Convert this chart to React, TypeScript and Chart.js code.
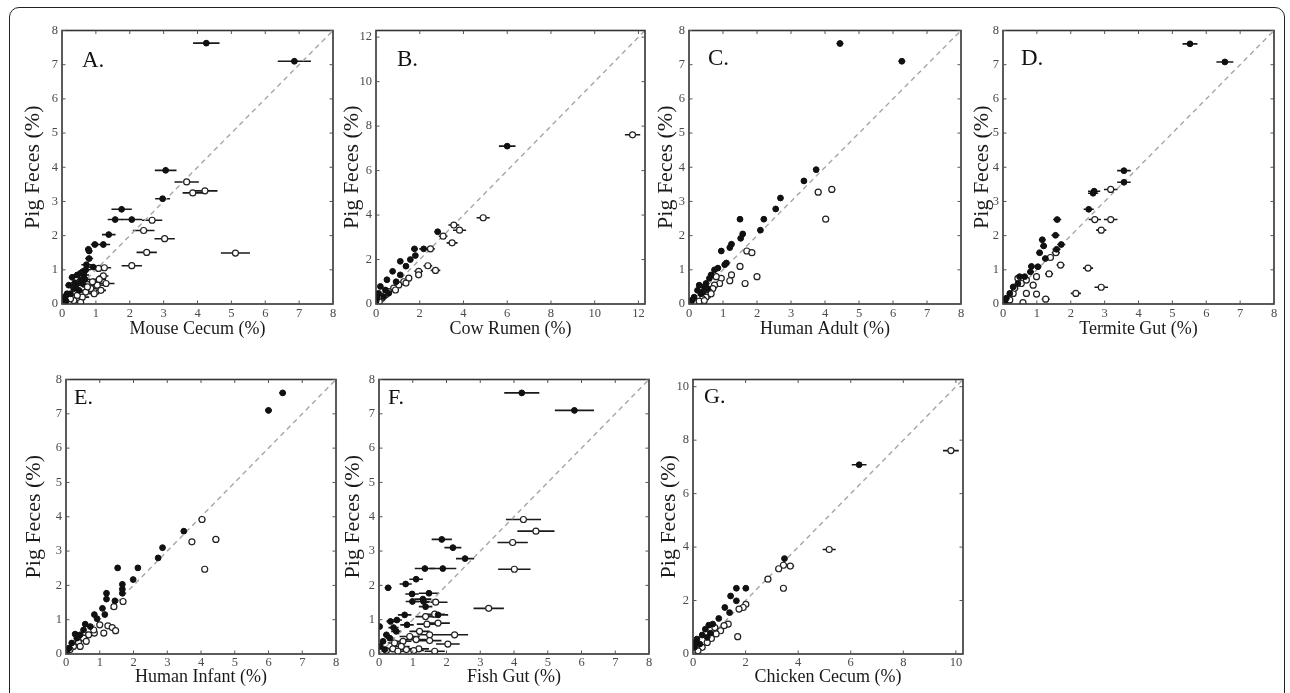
import React, { useEffect, useRef } from "react";
import { Chart, registerables } from "chart.js";

Chart.register(...registerables);

// [x, pigFeces, xError]
type P = [number, number, number];

const Y_ERR = 0.08;

const mouseFilled: P[] = [
  [4.26, 7.63, 0.39], [6.86, 7.1, 0.49], [3.06, 3.91, 0.32], [2.97, 3.08, 0.22], [1.76, 2.77, 0.3],
  [1.57, 2.47, 0.22], [2.06, 2.47, 0.3], [1.38, 2.03, 0.2], [1.22, 1.74, 0.2], [0.97, 1.74, 0.12],
  [0.78, 1.6, 0.1], [0.8, 1.55, 0.1], [0.8, 1.33, 0.12], [0.72, 1.15, 0.15], [0.92, 1.08, 0.15],
  [0.62, 0.95, 0.15], [0.45, 0.85, 0.15], [0.65, 0.85, 0.15], [0.3, 0.78, 0.1], [0.55, 0.7, 0.12],
  [0.2, 0.55, 0.1], [0.42, 0.55, 0.15], [0.6, 0.6, 0.12], [0.35, 0.45, 0.1], [0.15, 0.3, 0.08],
  [0.25, 0.3, 0.08], [0.08, 0.15, 0.05], [0.12, 0.08, 0.05], [0.05, 0.05, 0.05], [0.5, 0.4, 0.12],
  [0.7, 1.0, 0.15], [0.55, 0.9, 0.12], [0.38, 0.62, 0.12], [0.1, 0.22, 0.06], [0.68, 0.72, 0.15],
];
const mouseOpen: P[] = [
  [3.68, 3.57, 0.36], [3.86, 3.25, 0.3], [4.22, 3.31, 0.37], [2.66, 2.45, 0.3], [2.41, 2.15, 0.32],
  [3.03, 1.91, 0.3], [2.5, 1.51, 0.3], [5.12, 1.49, 0.43], [2.06, 1.12, 0.3], [1.08, 1.04, 0.15],
  [1.25, 1.06, 0.2], [1.22, 0.82, 0.15], [1.3, 0.6, 0.25], [1.04, 0.55, 0.2], [1.1, 0.72, 0.2],
  [0.9, 0.65, 0.15], [0.85, 0.45, 0.2], [0.7, 0.35, 0.2], [0.6, 0.2, 0.2], [0.45, 0.25, 0.15],
  [0.35, 0.1, 0.12], [0.55, 0.05, 0.1], [0.75, 0.5, 0.15], [0.95, 0.3, 0.15], [0.25, 0.15, 0.1],
  [1.15, 0.4, 0.15],
];

const cowFilled: P[] = [
  [6.0, 7.1, 0.38], [2.82, 3.25, 0.15], [1.76, 2.48, 0.15], [2.18, 2.48, 0.2], [1.8, 2.18, 0.12],
  [1.57, 2.0, 0.12], [1.11, 1.92, 0.1], [1.37, 1.7, 0.12], [0.76, 1.47, 0.1], [1.11, 1.31, 0.1],
  [0.5, 1.09, 0.1], [0.92, 1.0, 0.1], [0.2, 0.79, 0.08], [0.43, 0.63, 0.08], [0.12, 0.48, 0.06],
  [0.35, 0.33, 0.06], [0.05, 0.26, 0.05], [0.58, 0.48, 0.08], [0.0, 0.1, 0.04],
];
const cowOpen: P[] = [
  [11.73, 7.61, 0.35], [4.9, 3.88, 0.3], [3.56, 3.55, 0.25], [3.82, 3.32, 0.3], [3.07, 3.05, 0.2],
  [3.48, 2.75, 0.25], [2.49, 2.48, 0.2], [2.37, 1.72, 0.2], [2.72, 1.51, 0.22], [1.95, 1.47, 0.2],
  [1.95, 1.31, 0.15], [1.5, 1.16, 0.15], [1.27, 1.0, 0.12], [1.04, 0.86, 0.12], [0.81, 0.71, 0.1],
  [0.58, 0.56, 0.1], [0.43, 0.41, 0.08], [0.27, 0.26, 0.06], [0.15, 0.1, 0.05], [0.89, 0.63, 0.1],
  [1.37, 0.94, 0.12],
];

const adultFilled: P[] = [
  [4.44, 7.62, 0.1], [6.26, 7.1, 0.1], [3.74, 3.93, 0.08], [3.38, 3.6, 0.08], [2.69, 3.1, 0.08],
  [2.55, 2.78, 0.08], [2.2, 2.48, 0.08], [1.5, 2.48, 0.08], [2.1, 2.16, 0.08], [1.58, 2.05, 0.08],
  [1.52, 1.92, 0.08], [1.25, 1.75, 0.08], [1.2, 1.65, 0.08], [0.95, 1.55, 0.08], [1.1, 1.2, 0.08],
  [1.05, 1.15, 0.08], [0.85, 1.05, 0.08], [0.75, 1.0, 0.08], [0.65, 0.85, 0.08], [0.6, 0.75, 0.08],
  [0.5, 0.6, 0.05], [0.45, 0.5, 0.05], [0.3, 0.55, 0.05], [0.25, 0.4, 0.05], [0.35, 0.3, 0.05],
  [0.15, 0.2, 0.05], [0.1, 0.12, 0.05], [0.05, 0.05, 0.03], [0.55, 0.45, 0.05], [0.4, 0.35, 0.05],
];
const adultOpen: P[] = [
  [3.8, 3.27, 0.1], [4.2, 3.35, 0.1], [4.02, 2.48, 0.1], [1.7, 1.55, 0.08], [1.85, 1.5, 0.08],
  [1.5, 1.1, 0.08], [2.0, 0.8, 0.08], [1.65, 0.6, 0.08], [1.25, 0.85, 0.08], [1.2, 0.68, 0.08],
  [0.95, 0.75, 0.06], [0.9, 0.6, 0.06], [0.8, 0.8, 0.06], [0.75, 0.55, 0.06], [0.7, 0.45, 0.06],
  [0.6, 0.35, 0.06], [0.55, 0.25, 0.05], [0.5, 0.2, 0.05], [0.4, 0.15, 0.05], [0.3, 0.08, 0.05],
  [0.65, 0.3, 0.05], [0.45, 0.1, 0.05],
];

const termiteFilled: P[] = [
  [5.52, 7.61, 0.22], [6.55, 7.08, 0.25], [3.57, 3.9, 0.2], [3.57, 3.56, 0.2], [2.69, 3.3, 0.18],
  [2.66, 3.24, 0.15], [2.53, 2.77, 0.15], [1.6, 2.47, 0.12], [1.55, 2.01, 0.12], [1.16, 1.88, 0.1],
  [1.2, 1.7, 0.1], [1.72, 1.74, 0.12], [1.08, 1.5, 0.1], [1.58, 1.6, 0.12], [1.25, 1.33, 0.1],
  [0.84, 1.1, 0.1], [1.03, 1.09, 0.1], [0.81, 0.94, 0.1], [0.49, 0.8, 0.08], [0.64, 0.8, 0.08],
  [0.3, 0.5, 0.08], [0.2, 0.31, 0.06], [0.1, 0.17, 0.05], [0.05, 0.07, 0.05], [0.44, 0.6, 0.08],
];
const termiteOpen: P[] = [
  [3.18, 3.35, 0.2], [2.71, 2.47, 0.18], [3.18, 2.47, 0.2], [2.9, 2.16, 0.15], [2.51, 1.05, 0.15],
  [2.9, 0.49, 0.2], [2.15, 0.31, 0.15], [1.26, 0.14, 0.12], [1.7, 1.14, 0.12], [1.36, 0.88, 0.12],
  [0.99, 0.29, 0.1], [0.69, 0.31, 0.1], [0.59, 0.04, 0.08], [1.56, 1.5, 0.12], [1.4, 1.36, 0.1],
  [0.54, 0.6, 0.08], [0.69, 0.7, 0.08], [0.44, 0.75, 0.08], [0.3, 0.31, 0.06], [0.2, 0.12, 0.06],
  [0.89, 0.55, 0.1], [0.34, 0.46, 0.06], [0.99, 0.8, 0.1],
];

const infantFilled: P[] = [
  [6.42, 7.61, 0.1], [6.0, 7.1, 0.1], [3.49, 3.58, 0.08], [2.86, 3.1, 0.06], [2.73, 2.8, 0.06],
  [2.13, 2.51, 0.06], [1.53, 2.51, 0.06], [1.99, 2.17, 0.06], [1.67, 2.03, 0.06], [1.67, 1.89, 0.06],
  [1.67, 1.77, 0.06], [1.2, 1.77, 0.06], [1.2, 1.6, 0.06], [1.45, 1.55, 0.06], [1.08, 1.33, 0.06],
  [0.84, 1.15, 0.06], [1.15, 1.15, 0.06], [0.92, 1.03, 0.06], [0.57, 0.87, 0.05], [0.72, 0.8, 0.05],
  [0.52, 0.7, 0.05], [0.27, 0.58, 0.05], [0.42, 0.56, 0.05], [0.32, 0.46, 0.05], [0.17, 0.32, 0.04],
  [0.09, 0.17, 0.04], [0.02, 0.08, 0.03],
];
const infantOpen: P[] = [
  [4.03, 3.92, 0.1], [3.73, 3.27, 0.08], [4.44, 3.34, 0.1], [4.11, 2.47, 0.08], [1.69, 1.53, 0.06],
  [1.42, 1.38, 0.06], [0.84, 0.61, 0.05], [1.12, 0.61, 0.05], [1.24, 0.82, 0.05], [1.37, 0.77, 0.05],
  [1.47, 0.68, 0.05], [1.0, 0.85, 0.05], [0.82, 0.7, 0.05], [0.67, 0.56, 0.05], [0.52, 0.46, 0.05],
  [0.37, 0.34, 0.04], [0.22, 0.22, 0.04], [0.12, 0.13, 0.03], [0.6, 0.37, 0.05], [0.42, 0.22, 0.04],
];

const fishFilled: P[] = [
  [4.23, 7.61, 0.52], [5.79, 7.1, 0.58], [1.86, 3.34, 0.3], [2.19, 3.1, 0.25], [2.55, 2.78, 0.27],
  [1.36, 2.49, 0.3], [1.89, 2.49, 0.4], [1.1, 2.18, 0.2], [0.79, 2.04, 0.18], [0.27, 1.93, 0.1],
  [0.98, 1.75, 0.2], [1.48, 1.77, 0.3], [1.3, 1.6, 0.25], [0.99, 1.53, 0.2], [1.32, 1.53, 0.25],
  [1.38, 1.38, 0.2], [1.75, 1.14, 0.3], [0.76, 1.14, 0.2], [0.53, 0.99, 0.15], [0.34, 0.95, 0.12],
  [0.83, 0.85, 0.2], [0.43, 0.77, 0.15], [0.22, 0.56, 0.1], [0.32, 0.46, 0.12], [0.12, 0.37, 0.08],
  [0.04, 0.22, 0.05], [0.51, 0.66, 0.15], [0.02, 0.8, 0.04], [0.17, 0.13, 0.08],
];
const fishOpen: P[] = [
  [4.28, 3.92, 0.52], [4.65, 3.58, 0.55], [3.96, 3.25, 0.45], [4.01, 2.47, 0.48], [3.25, 1.33, 0.45],
  [1.68, 1.51, 0.35], [1.65, 1.16, 0.3], [1.38, 1.09, 0.3], [1.75, 0.9, 0.35], [1.42, 0.87, 0.3],
  [2.24, 0.56, 0.4], [1.5, 0.56, 0.35], [2.04, 0.29, 0.35], [1.2, 0.66, 0.3], [0.91, 0.51, 0.3],
  [1.1, 0.42, 0.3], [0.71, 0.37, 0.25], [1.5, 0.39, 0.35], [1.18, 0.15, 0.3], [0.81, 0.13, 0.25],
  [1.03, 0.1, 0.3], [0.66, 0.22, 0.25], [0.46, 0.32, 0.2], [0.41, 0.15, 0.2], [0.22, 0.1, 0.15],
  [1.65, 0.08, 0.3], [0.56, 0.08, 0.2],
];

const chickenFilled: P[] = [
  [6.32, 7.08, 0.28], [3.48, 3.57, 0.1], [1.65, 2.46, 0.1], [2.01, 2.46, 0.12], [1.43, 2.17, 0.08],
  [1.65, 1.99, 0.08], [1.21, 1.74, 0.08], [1.39, 1.55, 0.08], [0.98, 1.33, 0.06], [0.75, 1.12, 0.06],
  [0.6, 1.08, 0.06], [0.47, 0.93, 0.06], [0.66, 0.78, 0.06], [0.35, 0.71, 0.05], [0.15, 0.56, 0.05],
  [0.26, 0.37, 0.05], [0.06, 0.25, 0.04], [0.09, 0.43, 0.04], [0.54, 0.62, 0.05],
];
const chickenOpen: P[] = [
  [9.81, 7.61, 0.3], [5.18, 3.91, 0.25], [3.7, 3.29, 0.15], [3.44, 3.32, 0.12], [3.26, 3.19, 0.12],
  [2.85, 2.8, 0.12], [3.44, 2.46, 0.12], [1.7, 0.65, 0.1], [2.01, 1.86, 0.08], [1.91, 1.74, 0.08],
  [1.75, 1.68, 0.08], [1.34, 1.12, 0.08], [1.18, 1.06, 0.08], [1.05, 0.87, 0.06], [0.88, 0.75, 0.06],
  [0.7, 0.58, 0.06], [0.54, 0.43, 0.05], [0.35, 0.25, 0.05], [0.19, 0.12, 0.04], [0.83, 0.99, 0.06],
];

const Y_LABEL = "Pig Feces (%)";
const FAMILY = "'Liberation Serif', 'Times New Roman', serif";

interface Spec {
  letter: string;
  xLabel: string;
  max: number;
  step: number;
  filled: P[];
  open: P[];
  L: number; T: number; R: number; B: number;
  d: number; e: number; lx: number; ly: number; lsize: number; tp: number;
}

const panels: Spec[] = [
  { letter: "A.", xLabel: "Mouse Cecum (%)", max: 8, step: 1, filled: mouseFilled, open: mouseOpen, L: 62, T: 29, R: 333, B: 304, d: 29, e: 25, lx: 20, ly: 36, lsize: 23, tp: 2 },
  { letter: "B.", xLabel: "Cow Rumen (%)", max: 12.3, step: 2, filled: cowFilled, open: cowOpen, L: 376, T: 29, R: 645, B: 304, d: 24, e: 25, lx: 21, ly: 35, lsize: 23, tp: 2 },
  { letter: "C.", xLabel: "Human Adult (%)", max: 8, step: 1, filled: adultFilled, open: adultOpen, L: 689, T: 29, R: 961, B: 304, d: 23, e: 25, lx: 19, ly: 34, lsize: 23, tp: 2 },
  { letter: "D.", xLabel: "Termite Gut (%)", max: 8, step: 1, filled: termiteFilled, open: termiteOpen, L: 1003, T: 29, R: 1274, B: 304, d: 21, e: 25, lx: 18, ly: 34, lsize: 23, tp: 2 },
  { letter: "E.", xLabel: "Human Infant (%)", max: 8, step: 1, filled: infantFilled, open: infantOpen, L: 66, T: 378, R: 336, B: 654, d: 32, e: 23, lx: 8, ly: 24, lsize: 22, tp: 1 },
  { letter: "F.", xLabel: "Fish Gut (%)", max: 8, step: 1, filled: fishFilled, open: fishOpen, L: 379, T: 378, R: 649, B: 654, d: 26, e: 23, lx: 9, ly: 24, lsize: 22, tp: 1 },
  { letter: "G.", xLabel: "Chicken Cecum (%)", max: 10.27, step: 2, filled: chickenFilled, open: chickenOpen, L: 693, T: 378, R: 963, B: 654, d: 24, e: 23, lx: 11, ly: 23, lsize: 22, tp: 1 },
];

const AXIS_W = 46;
const AXIS_H = 44;
const PAD_T = 10;
const PAD_R = 10;

const errorBars = {
  id: "errorBars",
  beforeDatasetsDraw(chart: any) {
    const { ctx, chartArea, scales } = chart;
    ctx.save();
    ctx.beginPath();
    ctx.rect(chartArea.left, chartArea.top, chartArea.right - chartArea.left, chartArea.bottom - chartArea.top);
    ctx.clip();
    ctx.strokeStyle = "#1a1a1a";
    ctx.lineWidth = 1.6;
    for (let di = 0; di < 2; di++) {
      const ds = chart.data.datasets[di];
      for (const p of ds.data as any[]) {
        const cx = scales.x.getPixelForValue(p.x);
        const cy = scales.y.getPixelForValue(p.y);
        const x0 = scales.x.getPixelForValue(p.x - p.xe);
        const x1 = scales.x.getPixelForValue(p.x + p.xe);
        const y0 = scales.y.getPixelForValue(p.y - p.ye);
        const y1 = scales.y.getPixelForValue(p.y + p.ye);
        ctx.beginPath();
        ctx.moveTo(x0, cy);
        ctx.lineTo(x1, cy);
        ctx.moveTo(cx, y0);
        ctx.lineTo(cx, y1);
        ctx.stroke();
      }
    }
    ctx.restore();
  },
};

const boxAndLetter = {
  id: "boxAndLetter",
  afterDraw(chart: any, _args: any, opts: any) {
    const { ctx, chartArea, scales } = chart;
    const { left, right, top, bottom } = chartArea;
    ctx.save();
    ctx.strokeStyle = "#333";
    ctx.lineWidth = 1.6;
    ctx.strokeRect(left, top, right - left, bottom - top);
    ctx.lineWidth = 1;
    ctx.strokeStyle = "#555";
    const tl = 3.5;
    ctx.beginPath();
    for (const t of scales.x.ticks) {
      const px = scales.x.getPixelForValue(t.value);
      ctx.moveTo(px, bottom);
      ctx.lineTo(px, bottom - tl);
      ctx.moveTo(px, top);
      ctx.lineTo(px, top + tl);
    }
    for (const t of scales.y.ticks) {
      const py = scales.y.getPixelForValue(t.value);
      ctx.moveTo(left, py);
      ctx.lineTo(left + tl, py);
      ctx.moveTo(right, py);
      ctx.lineTo(right - tl, py);
    }
    ctx.stroke();
    ctx.fillStyle = "#111";
    ctx.font = `${opts.size}px ${FAMILY}`;
    ctx.textBaseline = "alphabetic";
    ctx.textAlign = "left";
    ctx.fillText(opts.letter, left + opts.lx, top + opts.ly);
    ctx.restore();
  },
};

function Panel({ spec }: { spec: Spec }) {
  const ref = useRef<HTMLCanvasElement>(null);
  const width = AXIS_W + (spec.R - spec.L) + PAD_R;
  const height = PAD_T + (spec.B - spec.T) + AXIS_H;

  useEffect(() => {
    const toPts = (arr: P[]) => arr.map(([x, y, xe]) => ({ x, y, xe, ye: Y_ERR }));
    const tickFont = { family: FAMILY, size: 12.5 };
    const chart = new Chart(ref.current as HTMLCanvasElement, {
      type: "scatter",
      data: {
        datasets: [
          {
            label: "filled",
            data: toPts(spec.filled) as any,
            pointRadius: 2.9,
            pointBackgroundColor: "#111",
            pointBorderColor: "#111",
            pointBorderWidth: 1,
          },
          {
            label: "open",
            data: toPts(spec.open) as any,
            pointRadius: 3,
            pointBackgroundColor: "#fff",
            pointBorderColor: "#222",
            pointBorderWidth: 1.2,
          },
          {
            type: "line",
            label: "diagonal",
            data: [{ x: 0, y: 0 }, { x: spec.max, y: spec.max }],
            borderColor: "#a6a6a6",
            borderDash: [5, 4],
            borderWidth: 1.4,
            pointRadius: 0,
            fill: false,
          } as any,
        ],
      },
      options: {
        animation: false,
        responsive: false,
        events: [],
        layout: { padding: { top: PAD_T, right: PAD_R, left: 0, bottom: 0 } },
        plugins: {
          legend: { display: false },
          tooltip: { enabled: false },
          boxAndLetter: { letter: spec.letter, lx: spec.lx, ly: spec.ly, size: spec.lsize },
        } as any,
        scales: {
          x: {
            type: "linear",
            min: 0,
            max: spec.max,
            afterFit: (s: any) => { s.height = AXIS_H; },
            ticks: { stepSize: spec.step, includeBounds: false, autoSkip: false, maxRotation: 0, padding: spec.tp, color: "#4a4a4a", font: tickFont },
            grid: { display: false, drawTicks: false },
            border: { display: false },
            title: { display: true, text: spec.xLabel, color: "#1a1a1a", font: { family: FAMILY, size: 18 }, padding: { top: 0, bottom: 33.2 - spec.e } },
          },
          y: {
            type: "linear",
            min: 0,
            max: spec.max,
            afterFit: (s: any) => { s.width = AXIS_W; },
            ticks: { stepSize: spec.step, includeBounds: false, autoSkip: false, padding: 4, color: "#4a4a4a", font: tickFont },
            grid: { display: false, drawTicks: false },
            border: { display: false },
            title: { display: true, text: Y_LABEL, color: "#1a1a1a", font: { family: FAMILY, size: 22 }, padding: { top: 33 - spec.d, bottom: 0 } },
          },
        },
      } as any,
      plugins: [errorBars, boxAndLetter],
    });
    return () => chart.destroy();
  }, [spec]);

  return (
    <canvas
      ref={ref}
      width={width}
      height={height}
      style={{ position: "absolute", left: spec.L - AXIS_W, top: spec.T - PAD_T, width, height }}
    />
  );
}

export default function App() {
  return (
    <div style={{ position: "fixed", left: 0, top: 0, width: 1290, height: 693, background: "#fff", overflow: "hidden" }}>
      <div
        style={{
          position: "absolute",
          left: 9,
          top: 7,
          width: 1276,
          height: 720,
          border: "1.5px solid #222",
          borderRadius: 10,
          boxSizing: "border-box",
        }}
      />
      {panels.map((p) => (
        <Panel key={p.letter} spec={p} />
      ))}
    </div>
  );
}
